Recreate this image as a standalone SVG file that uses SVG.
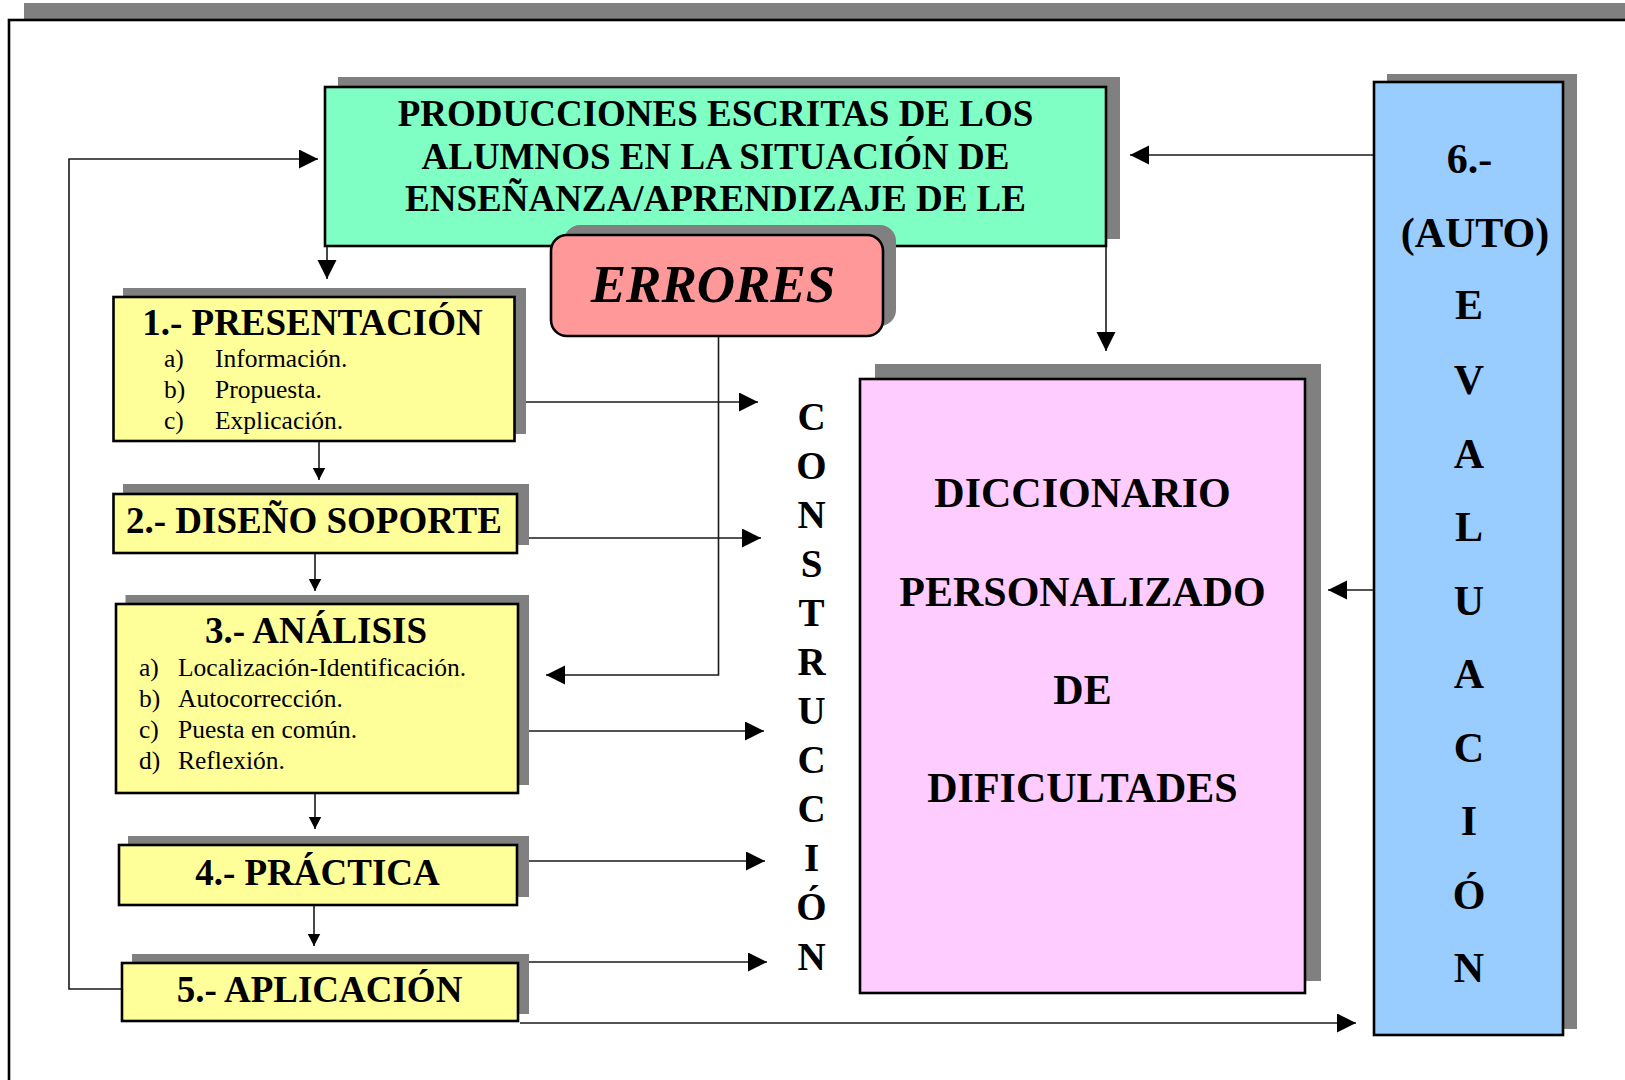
<svg xmlns="http://www.w3.org/2000/svg" width="1625" height="1080" viewBox="0 0 1625 1080">
<style>
.shadow{fill:#808080;stroke:none}
.box{stroke:#000;stroke-width:2.6}
.t{font-family:"Liberation Serif","Times New Roman",serif;fill:#000}
.b{font-weight:bold}
.title{font-family:"Liberation Serif","Times New Roman",serif;font-weight:bold;font-size:37px;text-anchor:middle}
.item{font-family:"Liberation Serif","Times New Roman",serif;font-size:25.5px}
.big{font-family:"Liberation Serif","Times New Roman",serif;font-weight:bold;font-size:42px;text-anchor:middle}
.let{font-family:"Liberation Serif","Times New Roman",serif;font-weight:bold;font-size:39px;text-anchor:middle}
.conn{fill:none;stroke:#1a1a1a;stroke-width:1.6}
</style>
<defs>
<marker id="ab" markerUnits="userSpaceOnUse" markerWidth="20" markerHeight="20" refX="19" refY="9.5" orient="auto"><path d="M0,0 L19,9.5 L0,19 z" fill="#000"/></marker>
<marker id="as" markerUnits="userSpaceOnUse" markerWidth="14" markerHeight="14" refX="12.5" refY="6.5" orient="auto"><path d="M0,0 L12.5,6.5 L0,13 z" fill="#000"/></marker>
</defs>
<rect width="1625" height="1080" fill="#fff"/>
<g id="frame">
<rect class="shadow" x="24" y="3" width="1610" height="1090"/>
<rect x="9" y="20" width="1630" height="1080" fill="#fff" stroke="#000" stroke-width="2.6"/>
</g>
<g id="producciones">
<rect class="shadow" x="338" y="77" width="782" height="162"/>
<rect class="box" x="325" y="87" width="781" height="159" fill="#80FFC4"/>
<text class="title" x="715.5" y="126">PRODUCCIONES ESCRITAS DE LOS</text>
<text class="title" x="715.5" y="168.5">ALUMNOS EN LA SITUACIÓN DE</text>
<text class="title" x="715.5" y="211">ENSEÑANZA/APRENDIZAJE DE LE</text>
</g>
<g id="errores">
<rect class="shadow" x="564" y="225" width="332" height="101" rx="16"/>
<rect class="box" x="551" y="235" width="332" height="101" rx="16" fill="#FF9999" stroke-width="2"/>
<text class="t b" x="713" y="301.5" font-size="53" font-style="italic" text-anchor="middle">ERRORES</text>
</g>
<g id="presentacion">
<rect class="shadow" x="123" y="288" width="403" height="146"/>
<rect class="box" x="113.5" y="297" width="401" height="144" fill="#FFFF99"/>
<text class="title" x="312.5" y="335">1.- PRESENTACIÓN</text>
<text class="item" x="164" y="367">a)</text><text class="item" x="215" y="367">Información.</text>
<text class="item" x="164" y="398">b)</text><text class="item" x="215" y="398">Propuesta.</text>
<text class="item" x="164" y="429">c)</text><text class="item" x="215" y="429">Explicación.</text>
</g>
<g id="diseno">
<rect class="shadow" x="123" y="484" width="406" height="61"/>
<rect class="box" x="113.5" y="494" width="403.5" height="59" fill="#FFFF99"/>
<text class="title" x="314" y="533">2.- DISEÑO SOPORTE</text>
</g>
<g id="analisis">
<rect class="shadow" x="125.5" y="595" width="403.5" height="190"/>
<rect class="box" x="116" y="604" width="402" height="189" fill="#FFFF99"/>
<text class="title" x="316" y="643">3.- ANÁLISIS</text>
<text class="item" x="139" y="676">a)</text><text class="item" x="178" y="676">Localización-Identificación.</text>
<text class="item" x="139" y="707">b)</text><text class="item" x="178" y="707">Autocorrección.</text>
<text class="item" x="139" y="738">c)</text><text class="item" x="178" y="738">Puesta en común.</text>
<text class="item" x="139" y="769">d)</text><text class="item" x="178" y="769">Reflexión.</text>
</g>
<g id="practica">
<rect class="shadow" x="128" y="836" width="401" height="61"/>
<rect class="box" x="119" y="845" width="398" height="60" fill="#FFFF99"/>
<text class="title" x="317.5" y="885">4.- PRÁCTICA</text>
</g>
<g id="aplicacion">
<rect class="shadow" x="132" y="954" width="397" height="60"/>
<rect class="box" x="122" y="963" width="396" height="58" fill="#FFFF99"/>
<text class="title" x="319.5" y="1001.5">5.- APLICACIÓN</text>
</g>
<g id="construccion">
<text class="let" x="811.5" y="430">C</text>
<text class="let" x="811.5" y="479">O</text>
<text class="let" x="811.5" y="528">N</text>
<text class="let" x="811.5" y="577">S</text>
<text class="let" x="811.5" y="626">T</text>
<text class="let" x="811.5" y="675">R</text>
<text class="let" x="811.5" y="724">U</text>
<text class="let" x="811.5" y="773">C</text>
<text class="let" x="811.5" y="822">C</text>
<text class="let" x="811.5" y="871">I</text>
<text class="let" x="811.5" y="920">Ó</text>
<text class="let" x="811.5" y="970">N</text>
</g>
<g id="diccionario">
<rect class="shadow" x="875" y="364" width="446" height="617"/>
<rect class="box" x="860" y="379" width="445" height="614" fill="#FFCCFF"/>
<text class="big" x="1082.5" y="507">DICCIONARIO</text>
<text class="big" x="1082.5" y="605.5">PERSONALIZADO</text>
<text class="big" x="1082.5" y="704">DE</text>
<text class="big" x="1082.5" y="802">DIFICULTADES</text>
</g>
<g id="evaluacion">
<rect class="shadow" x="1387" y="74" width="190" height="955"/>
<rect class="box" x="1374" y="82" width="189" height="953" fill="#99CCFF" stroke-width="2"/>
<text class="big" x="1469.5" y="173" font-size="41">6.-</text>
<text class="big" x="1475" y="247" font-size="41">(AUTO)</text>
<text class="big" x="1469" y="319" font-size="41">E</text>
<text class="big" x="1469" y="394" font-size="41">V</text>
<text class="big" x="1469" y="467.5" font-size="41">A</text>
<text class="big" x="1469" y="541" font-size="41">L</text>
<text class="big" x="1469" y="614.5" font-size="41">U</text>
<text class="big" x="1469" y="688" font-size="41">A</text>
<text class="big" x="1469" y="761.5" font-size="41">C</text>
<text class="big" x="1469" y="835" font-size="41">I</text>
<text class="big" x="1469" y="908.5" font-size="41">Ó</text>
<text class="big" x="1469" y="982" font-size="41">N</text>
</g>
<g id="connectors">
<path class="conn" d="M327,247 V279" marker-end="url(#ab)"/>
<path class="conn" d="M319,442 V480" marker-end="url(#as)"/>
<path class="conn" d="M315,554 V591" marker-end="url(#as)"/>
<path class="conn" d="M315,794 V829" marker-end="url(#as)"/>
<path class="conn" d="M314,906 V946" marker-end="url(#as)"/>
<path class="conn" d="M526,402 H758" marker-end="url(#ab)"/>
<path class="conn" d="M529,538 H761" marker-end="url(#ab)"/>
<path class="conn" d="M529,731 H764" marker-end="url(#ab)"/>
<path class="conn" d="M529,861 H765" marker-end="url(#ab)"/>
<path class="conn" d="M529,962 H767" marker-end="url(#ab)"/>
<path class="conn" d="M718.5,337 V675 H546" marker-end="url(#ab)"/>
<path class="conn" d="M121,989 H69 V159 H318" marker-end="url(#ab)"/>
<path class="conn" d="M520,1023 H1356" marker-end="url(#ab)"/>
<path class="conn" d="M1106,247 V351" marker-end="url(#ab)"/>
<path class="conn" d="M1373,155 H1130" marker-end="url(#ab)"/>
<path class="conn" d="M1373,590 H1328" marker-end="url(#ab)"/>
</g>
</svg>
